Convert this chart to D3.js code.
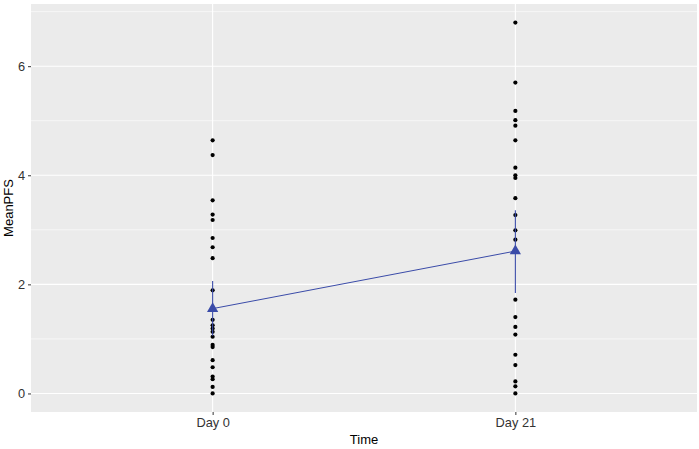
<!DOCTYPE html>
<html><head><meta charset="utf-8">
<script src="https://cdn.jsdelivr.net/npm/d3@7"></script>
<style>body{margin:0;background:#fff}svg{display:block}</style>
</head><body>
<script>
const categories = ["Day 0", "Day 21"];
const day0Values = [4.64,4.37,3.54,3.28,3.18,2.85,2.68,2.48,1.89,1.35,1.25,1.19,1.13,1.04,0.89,0.85,0.61,0.48,0.31,0.26,0.12,0.0];
const day21Values = [6.80,5.70,5.18,5.01,4.91,4.64,4.14,4.00,3.95,3.58,3.27,2.99,2.82,1.72,1.40,1.22,1.08,0.71,0.52,0.22,0.13,0.0];
const meanValues = [1.555, 2.61];
const errLow = [1.06, 1.84];
const errHigh = [2.06, 3.36];
const yTicks = [0, 2, 4, 6];
const yMinor = [1, 3, 5, 7];

const W = 699, H = 449;
const m = {left: 31, right: 2, top: 4, bottom: 37};
const svg = d3.select("body").append("svg").attr("width", W).attr("height", H);
const pw = W - m.left - m.right, ph = H - m.top - m.bottom;
const g = svg.append("g").attr("transform", `translate(${m.left},${m.top})`);

const x = d3.scalePoint().domain(categories).range([pw*0.6/2.2, pw*1.6/2.2]);
const y = d3.scaleLinear().domain([-0.34, 7.14]).range([ph, 0]);

g.append("rect").attr("width", pw).attr("height", ph).attr("fill", "#EBEBEB");
g.selectAll(".minor").data(yMinor).join("line")
  .attr("x1", 0).attr("x2", pw).attr("y1", d => y(d)).attr("y2", d => y(d))
  .attr("stroke", "#fff").attr("stroke-width", 0.6);
g.selectAll(".major").data(yTicks).join("line")
  .attr("x1", 0).attr("x2", pw).attr("y1", d => y(d)).attr("y2", d => y(d))
  .attr("stroke", "#fff").attr("stroke-width", 1.1);
g.selectAll(".vmajor").data(categories).join("line")
  .attr("x1", d => x(d)).attr("x2", d => x(d)).attr("y1", 0).attr("y2", ph)
  .attr("stroke", "#fff").attr("stroke-width", 1.1);

// axes
const yAxis = g.append("g").call(d3.axisLeft(y).tickValues(yTicks).tickSize(3).tickPadding(3));
const xAxis = g.append("g").attr("transform", `translate(0,${ph})`).call(d3.axisBottom(x).tickSize(3).tickPadding(3));
[yAxis, xAxis].forEach(a => {
  a.select(".domain").remove();
  a.selectAll("line").attr("stroke", "#333").attr("stroke-width", 1);
  a.selectAll("text").attr("fill", "#333").style("font-family", "Liberation Sans, Arial, sans-serif").style("font-size", "12.8px");
});

// points
const pts = [];
day0Values.forEach(v => pts.push({c: categories[0], v}));
day21Values.forEach(v => pts.push({c: categories[1], v}));
g.selectAll(".pt").data(pts).join("circle")
  .attr("cx", d => x(d.c)).attr("cy", d => y(d.v)).attr("r", 2.1).attr("fill", "#000");

const blue = "#3A4BA8";
// error bars
g.selectAll(".eb").data(categories).join("line")
  .attr("x1", d => x(d)).attr("x2", d => x(d))
  .attr("y1", (d,i) => y(errLow[i])).attr("y2", (d,i) => y(errHigh[i]))
  .attr("stroke", blue).attr("stroke-width", 1.1);
// mean line
g.append("path").datum(categories)
  .attr("d", d3.line().x(d => x(d)).y((d,i) => y(meanValues[i])))
  .attr("fill", "none").attr("stroke", blue).attr("stroke-width", 1);
// triangles
g.selectAll(".tri").data(categories).join("path")
  .attr("transform", (d,i) => `translate(${x(d)},${y(meanValues[i])})`)
  .attr("d", d3.symbol().type(d3.symbolTriangle).size(55))
  .attr("fill", blue);

// titles
svg.append("text").attr("x", m.left + pw/2).attr("y", H - 5).attr("text-anchor", "middle")
  .style("font-family", "Liberation Sans, Arial, sans-serif").style("font-size", "13px").attr("fill", "#000").text("Time");
svg.append("text").attr("transform", `translate(13,${m.top + ph/2}) rotate(-90)`).attr("text-anchor", "middle")
  .style("font-family", "Liberation Sans, Arial, sans-serif").style("font-size", "13px").attr("fill", "#000").text("MeanPFS");
</script>
</body></html>
